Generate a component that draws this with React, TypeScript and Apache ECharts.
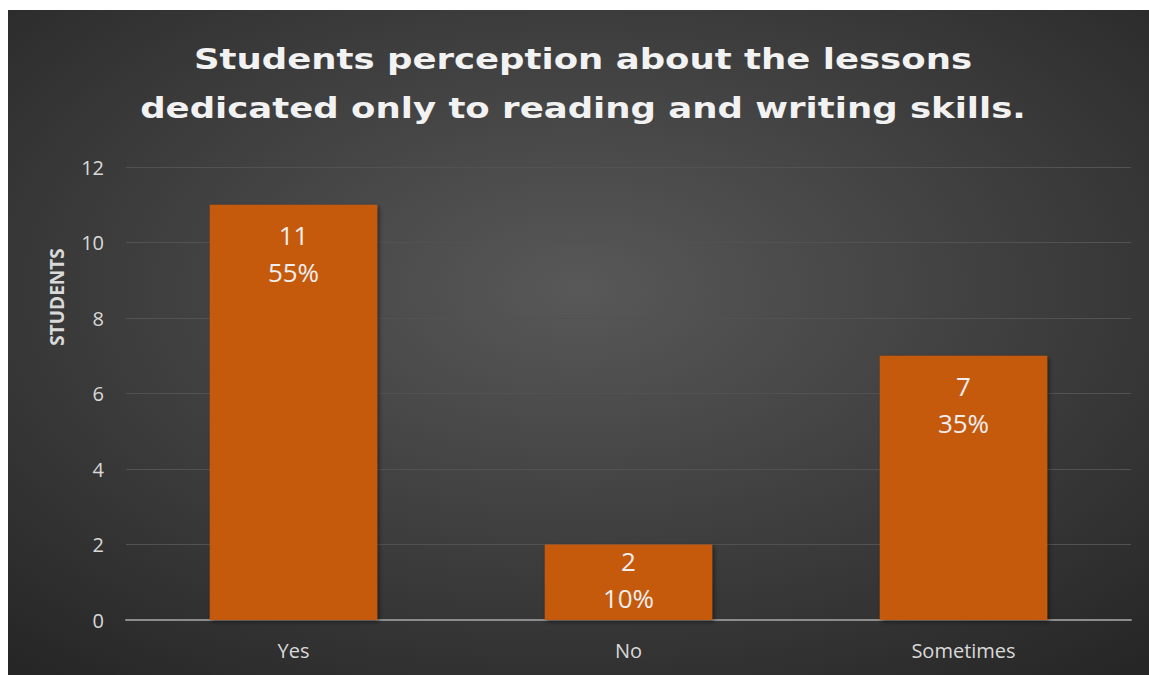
import React, { useEffect, useRef } from "react";
import * as echarts from "echarts";

const categories = ["Yes", "No", "Sometimes"];
const studentCounts = [11, 2, 7];
const percentLabels = ["55%", "10%", "35%"];
const yTicks = { min: 0, max: 12, interval: 2 };
const titleLines = [
  "Students perception about the lessons",
  "dedicated only to reading and writing skills.",
];
const yAxisTitle = "STUDENTS";

export default function App() {
  const ref = useRef<HTMLDivElement>(null);
  useEffect(() => {
    document.body.style.margin = "0";
    document.body.style.overflow = "hidden";
    if (!ref.current) return;
    const chart = echarts.init(ref.current, undefined, { renderer: "svg" });
    const seriesData = studentCounts.map((v) =>
      v < 3
        ? { value: v, label: { position: "inside", offset: [0, -3] } }
        : { value: v }
    );
    chart.setOption({
      animation: false,
      backgroundColor: {
        type: "radial",
        x: 0.5,
        y: 0.42,
        r: 0.75,
        colorStops: [
          { offset: 0, color: "#585858" },
          { offset: 1, color: "#262626" },
        ],
      },
      graphic: [
        {
          type: "text",
          x: 575,
          y: 25,
          scaleX: 1.225,
          style: {
            text: titleLines.join("\n"),
            fontFamily: "DejaVu Sans",
            fontWeight: "bold",
            fontSize: 29,
            lineHeight: 49,
            fill: "#f2f2f2",
            align: "center",
            verticalAlign: "top",
            shadowColor: "rgba(0,0,0,0.6)",
            shadowBlur: 5,
            shadowOffsetX: 2,
            shadowOffsetY: 2,
          },
        },
        {
          type: "text",
          x: 49,
          y: 287,
          rotation: Math.PI / 2,
          style: {
            text: yAxisTitle,
            fontFamily: "Open Sans",
            fontWeight: "bold",
            fontSize: 19,
            fill: "#d9d9d9",
            align: "center",
            verticalAlign: "middle",
          },
        },
      ],
      grid: { left: 118, right: 18, top: 157, bottom: 55 },
      xAxis: {
        type: "category",
        data: categories,
        axisLine: { lineStyle: { color: "#8c8c8c", width: 2 } },
        axisTick: { show: false },
        axisLabel: {
          color: "#d9d9d9",
          fontFamily: "Open Sans",
          fontSize: 20,
          margin: 20,
        },
      },
      yAxis: {
        type: "value",
        min: yTicks.min,
        max: yTicks.max,
        interval: yTicks.interval,
        axisLine: { show: false },
        axisTick: { show: false },
        axisLabel: {
          color: "#d9d9d9",
          fontFamily: "Open Sans",
          fontSize: 20,
          margin: 22,
        },
        splitLine: { lineStyle: { color: "#525252", width: 1 } },
      },
      series: [
        {
          type: "bar",
          data: seriesData,
          barWidth: "50%",
          itemStyle: {
            color: "#C55A11",
            shadowColor: "rgba(0,0,0,0.45)",
            shadowBlur: 4,
            shadowOffsetX: 2,
            shadowOffsetY: 2,
          },
          label: {
            show: true,
            position: "insideTop",
            distance: 12,
            color: "#eeeeee",
            fontFamily: "Open Sans",
            fontSize: 26,
            lineHeight: 37,
            formatter: (p: any) => `${p.value}\n${percentLabels[p.dataIndex]}`,
          },
        },
      ],
    });
    return () => chart.dispose();
  }, []);
  return (
    <div
      ref={ref}
      style={{ width: 1141, height: 665, marginLeft: 8, marginTop: 10 }}
    />
  );
}
